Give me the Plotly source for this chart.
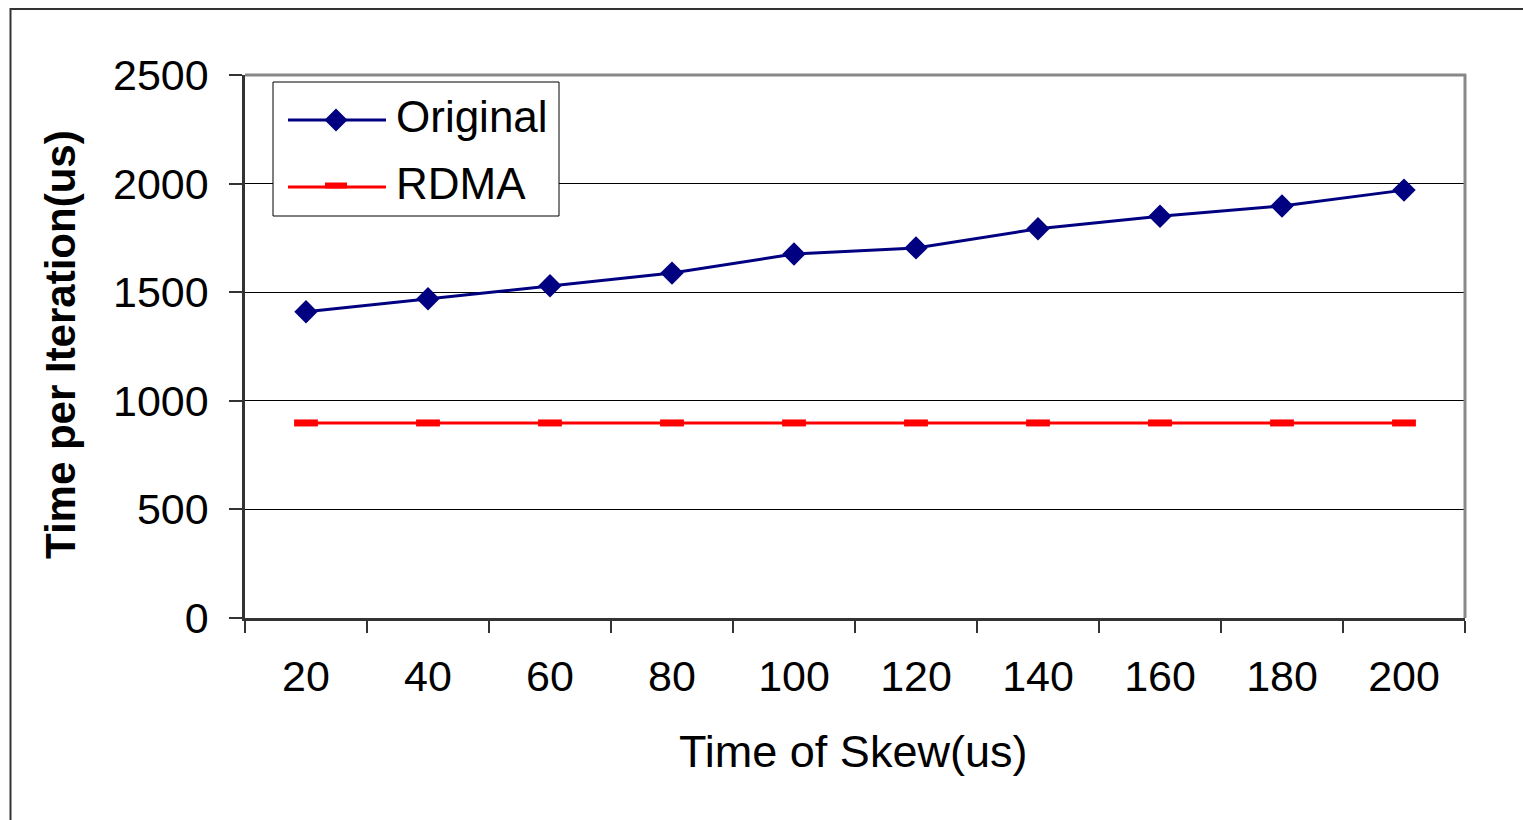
import plotly.graph_objects as go

# Chart data
skew_us = ["20", "40", "60", "80", "100", "120", "140", "160", "180", "200"]
original_us = [1410, 1470, 1530, 1588, 1676, 1704, 1792, 1850, 1897, 1970]
rdma_us = [898, 898, 898, 898, 898, 898, 898, 898, 898, 898]
y_ticks = [0, 500, 1000, 1500, 2000, 2500]

FIG_W, FIG_H = 1523, 820
L, R, T, B = 245, 1465, 75, 618          # plot area in pixels
PW, PH = R - L, B - T

NAVY = "#000080"
RED = "#FF0000"
FONT = "Liberation Sans, Arial, sans-serif"


def px_x(x):
    return (x - L) / PW


def px_y(y):
    return (B - y) / PH


fig = go.Figure()

fig.add_trace(go.Scatter(
    x=skew_us, y=original_us, name="Original", mode="lines+markers",
    line=dict(color=NAVY, width=3),
    marker=dict(symbol="diamond", size=18, color=NAVY),
    showlegend=False,
))
fig.add_trace(go.Scatter(
    x=skew_us, y=rdma_us, name="RDMA", mode="lines+markers",
    line=dict(color=RED, width=3),
    marker=dict(symbol="line-ew", size=17, color=RED,
                line=dict(color=RED, width=7)),
    showlegend=False,
))

shapes = []
# outer frame (right and bottom edges fall outside the page)
shapes.append(dict(type="rect", xref="paper", yref="paper",
                   x0=px_x(10.5), x1=px_x(1600), y0=px_y(900), y1=px_y(9),
                   line=dict(color="#333333", width=2), layer="above"))
# plot area border: top and right in grey
shapes.append(dict(type="line", xref="paper", yref="paper",
                   x0=px_x(L), x1=px_x(R + 1), y0=px_y(T), y1=px_y(T),
                   line=dict(color="#888888", width=3), layer="above"))
shapes.append(dict(type="line", xref="paper", yref="paper",
                   x0=px_x(R), x1=px_x(R), y0=px_y(T - 1), y1=px_y(B),
                   line=dict(color="#888888", width=3), layer="above"))

# legend box
LB_X0, LB_X1, LB_Y0, LB_Y1 = 273, 559, 82, 216
shapes.append(dict(type="rect", xref="paper", yref="paper",
                   x0=px_x(LB_X0), x1=px_x(LB_X1), y0=px_y(LB_Y1), y1=px_y(LB_Y0),
                   line=dict(color="#000000", width=1), fillcolor="white",
                   layer="above"))
# legend entry: Original
yo = 120
shapes.append(dict(type="line", xref="paper", yref="paper",
                   x0=px_x(288), x1=px_x(386), y0=px_y(yo), y1=px_y(yo),
                   line=dict(color=NAVY, width=3), layer="above"))
cx, h = 336, 11.5
shapes.append(dict(type="path", xref="paper", yref="paper",
                   path=(f"M {px_x(cx - h)},{px_y(yo)} L {px_x(cx)},{px_y(yo - h)} "
                         f"L {px_x(cx + h)},{px_y(yo)} L {px_x(cx)},{px_y(yo + h)} Z"),
                   fillcolor=NAVY, line=dict(color=NAVY, width=0), layer="above"))
# legend entry: RDMA
yr = 187
shapes.append(dict(type="line", xref="paper", yref="paper",
                   x0=px_x(288), x1=px_x(386), y0=px_y(yr), y1=px_y(yr),
                   line=dict(color=RED, width=3), layer="above"))
shapes.append(dict(type="rect", xref="paper", yref="paper",
                   x0=px_x(325), x1=px_x(347), y0=px_y(188.5), y1=px_y(182.5),
                   fillcolor=RED, line=dict(color=RED, width=0), layer="above"))

annotations = [
    dict(text="Original", xref="paper", yref="paper", x=px_x(394), y=px_y(116),
         xanchor="left", yanchor="middle", showarrow=False,
         font=dict(family=FONT, size=44, color="black")),
    dict(text="RDMA", xref="paper", yref="paper", x=px_x(394), y=px_y(183),
         xanchor="left", yanchor="middle", showarrow=False,
         font=dict(family=FONT, size=44, color="black")),
    dict(text="<b>Time per Iteration(us)</b>", xref="paper", yref="paper",
         x=px_x(60), y=px_y(345), xanchor="center", yanchor="middle",
         textangle=-90, showarrow=False,
         font=dict(family=FONT, size=42, color="black")),
    dict(text="Time of Skew(us)", xref="paper", yref="paper",
         x=px_x(853), y=px_y(751), xanchor="center", yanchor="middle",
         showarrow=False, font=dict(family=FONT, size=45, color="black")),
]

fig.update_layout(
    width=FIG_W, height=FIG_H,
    margin=dict(l=L, r=FIG_W - R, t=T, b=FIG_H - B, pad=0),
    paper_bgcolor="white", plot_bgcolor="white",
    font=dict(family=FONT, size=43, color="black"),
    shapes=shapes, annotations=annotations,
    xaxis=dict(
        type="category", categoryorder="array", categoryarray=skew_us,
        range=[-0.5, len(skew_us) - 0.5],
        tickson="boundaries", ticks="outside", ticklen=12, tickwidth=1.5,
        tickcolor="#333333", showline=True, linecolor="#333333", linewidth=2.5,
        showgrid=False, zeroline=False, ticklabelstandoff=19,
        tickfont=dict(family=FONT, size=43, color="black"),
    ),
    yaxis=dict(
        range=[0, 2500], tickvals=y_ticks, ticktext=[str(v) for v in y_ticks],
        ticks="outside", ticklen=13, tickwidth=1.5, tickcolor="#333333",
        showline=True, linecolor="#333333", linewidth=2.5,
        showgrid=True, gridcolor="#000000", gridwidth=1, zeroline=False,
        ticklabelstandoff=12,
        tickfont=dict(family=FONT, size=43, color="black"),
    ),
)

fig.write_html("out.html")
